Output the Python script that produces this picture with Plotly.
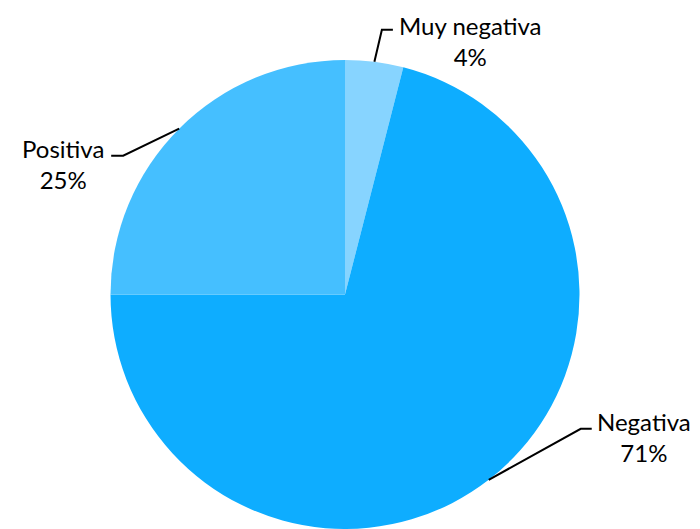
import math
import plotly.graph_objects as go

# ---- data ----
categories = ["Muy negativa", "Negativa", "Positiva"]
values = [4, 71, 25]
colors = ["#87D4FF", "#0EADFF", "#45BFFF"]

# page body has an 8px margin; figure sized to fill the 700x529 window
OFF = 8
W, H = 700 - OFF, 529 - OFF

# pie geometry in screen pixels
CX = 345.0
TOP = 60.0
dom_x = [(CX - 236 - OFF) / W, (CX + 236 - OFF) / W]
dom_y = [0.0, 1 - (TOP - OFF) / H]
R = min((dom_x[1] - dom_x[0]) * W, (dom_y[1] - dom_y[0]) * H) / 2
CY = TOP + R

fig = go.Figure(go.Pie(
    labels=categories, values=values, sort=False, direction="clockwise",
    rotation=0, marker=dict(colors=colors, line=dict(width=0)),
    textinfo="none", hoverinfo="label+percent", showlegend=False,
    domain=dict(x=dom_x, y=dom_y),
))

def px2paper(x, y):
    return (x - OFF) / W, 1 - (y - OFF) / H

# leader line layout: elbow offset from slice anchor, horizontal segment, text gap
label_cfg = {
    "Muy negativa": dict(elbow=(7.5, -32), seg=11, side="left", tdx=5, tdy=11),
    "Negativa": dict(elbow=(92, -51), seg=11, side="left", tdx=4, tdy=8),
    "Positiva": dict(elbow=(-56, 27), seg=-12, side="right", tdx=-6, tdy=8),
}

total = sum(values)
cum = 0
shapes, annotations = [], []
for cat, v in zip(categories, values):
    mid = (cum + v / 2) / total * 2 * math.pi
    cum += v
    ax = CX + R * math.sin(mid)
    ay = CY - R * math.cos(mid)
    cfg = label_cfg[cat]
    ex, ey = ax + cfg["elbow"][0], ay + cfg["elbow"][1]
    hx = ex + cfg["seg"]
    p = [px2paper(ax, ay), px2paper(ex, ey), px2paper(hx, ey)]
    shapes.append(dict(
        type="path", xref="paper", yref="paper",
        path=f"M {p[0][0]} {p[0][1]} L {p[1][0]} {p[1][1]} L {p[2][0]} {p[2][1]}",
        line=dict(color="black", width=2),
    ))
    tx, ty = px2paper(hx + cfg["tdx"], ey + cfg["tdy"])
    pct = round(v / total * 100)
    annotations.append(dict(
        xref="paper", yref="paper", x=tx, y=ty, showarrow=False,
        text=f"{cat}<br>{pct}%", align="center",
        xanchor=cfg["side"], yanchor="middle", borderpad=0,
        font=dict(family="Lato, 'Open Sans', sans-serif", size=24, color="#000000"),
    ))

fig.update_layout(
    width=W, height=H, margin=dict(l=0, r=0, t=0, b=0),
    paper_bgcolor="white", plot_bgcolor="white",
    shapes=shapes, annotations=annotations,
)
fig.write_html("out.html")
